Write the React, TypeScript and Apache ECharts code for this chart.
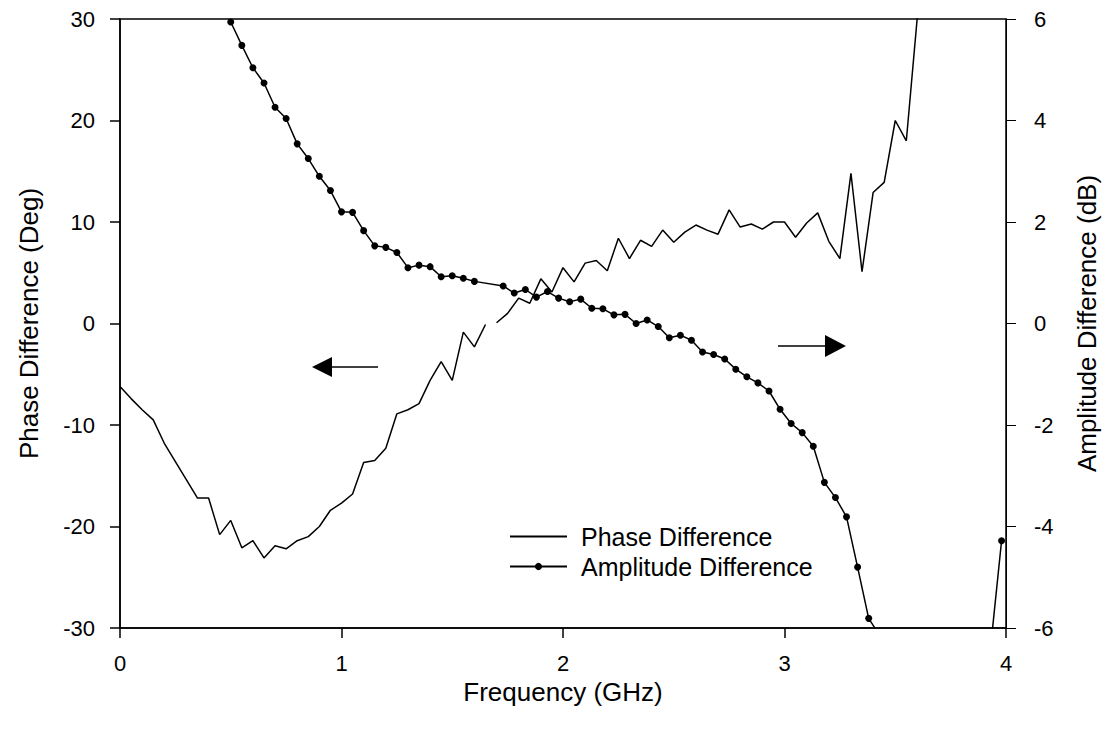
import React, { useEffect, useRef } from "react";
import * as echarts from "echarts";

// Phase difference (deg), left axis
const phaseFreq = [
  0.0, 0.05, 0.1, 0.15, 0.2, 0.25, 0.3, 0.35, 0.4, 0.45, 0.5, 0.55, 0.6, 0.65, 0.7, 0.75, 0.8, 0.85, 0.9, 0.95,
  1.0, 1.05, 1.1, 1.15, 1.2, 1.25, 1.3, 1.35, 1.4, 1.45, 1.5, 1.55, 1.6, 1.65, 1.675, 1.7, 1.75, 1.8, 1.85, 1.9, 1.95,
  2.0, 2.05, 2.1, 2.15, 2.2, 2.25, 2.3, 2.35, 2.4, 2.45, 2.5, 2.55, 2.6, 2.65, 2.7, 2.75, 2.8, 2.85, 2.9, 2.95,
  3.0, 3.05, 3.1, 3.15, 3.2, 3.25, 3.3, 3.35, 3.4, 3.45, 3.5, 3.55, 3.6,
];
const phaseDeg: (number | null)[] = [
  -6.2, -7.4, -8.5, -9.5, -11.8, -13.6, -15.4, -17.2, -17.2, -20.8, -19.4, -22.1, -21.4, -23.1, -21.9, -22.2, -21.4, -21.0, -20.0, -18.4,
  -17.7, -16.8, -13.7, -13.5, -12.3, -8.9, -8.5, -7.9, -5.6, -3.75, -5.6, -0.85, -2.3, -0.1, null, 0.07, 1.0, 2.5, 2.0, 4.4, 3.1,
  5.5, 4.1, 5.95, 6.2, 5.2, 8.4, 6.4, 8.2, 7.6, 9.2, 8.0, 9.0, 9.7, 9.2, 8.8, 11.2, 9.5, 9.8, 9.3, 10.0,
  10.0, 8.5, 9.9, 10.9, 8.1, 6.4, 14.8, 5.1, 12.9, 13.9, 20.0, 18.0, 30.3,
];

// Amplitude difference (dB), right axis
const ampFreq = [
  0.5, 0.55, 0.6, 0.65, 0.7, 0.75, 0.8, 0.85, 0.9, 0.95, 1.0, 1.05, 1.1, 1.15, 1.2, 1.25, 1.3, 1.35, 1.4, 1.45, 1.5, 1.55, 1.6,
  1.73, 1.78, 1.83, 1.88, 1.93, 1.98, 2.03, 2.08, 2.13, 2.18, 2.23, 2.28, 2.33, 2.38, 2.43, 2.48, 2.53, 2.58, 2.63, 2.68, 2.73,
  2.78, 2.83, 2.88, 2.93, 2.98, 3.03, 3.08, 3.13, 3.18, 3.23, 3.28, 3.33, 3.38, 3.43, 3.93, 3.98,
];
const ampDb = [
  5.94, 5.48, 5.04, 4.74, 4.26, 4.04, 3.54, 3.25, 2.9, 2.62, 2.2, 2.19, 1.83, 1.53, 1.5, 1.4, 1.1, 1.15, 1.12, 0.92, 0.94, 0.89, 0.83,
  0.74, 0.6, 0.67, 0.52, 0.63, 0.5, 0.43, 0.48, 0.3, 0.29, 0.17, 0.18, 0.0, 0.07, -0.06, -0.28, -0.23, -0.33, -0.56, -0.61, -0.7,
  -0.9, -1.05, -1.17, -1.33, -1.69, -1.97, -2.15, -2.42, -3.13, -3.43, -3.81, -4.8, -5.81, -6.15, -6.4, -4.28,
];

const xTicks = [0, 1, 2, 3, 4];
const leftTicks = [-30, -20, -10, 0, 10, 20, 30];
const rightTicks = [-6, -4, -2, 0, 2, 4, 6];

const FONT = "'Liberation Sans', Arial, sans-serif";

export default function App() {
  const ref = useRef<HTMLDivElement>(null);
  useEffect(() => {
    if (!ref.current) return;
    const chart = echarts.init(ref.current, undefined, { renderer: "svg" });
    const axisText = { color: "#000", fontSize: 22, fontFamily: FONT };
    const nameText = { color: "#000", fontSize: 26, fontFamily: FONT };
    chart.setOption({
      animation: false,
      backgroundColor: "#fff",
      grid: {
        left: 120,
        top: 19,
        width: 886,
        height: 609,
        show: true,
        borderColor: "#000",
        borderWidth: 1.5,
        backgroundColor: "transparent",
      },
      legend: {
        orient: "vertical",
        left: 509,
        top: 524,
        padding: 0,
        itemWidth: 57,
        itemHeight: 9,
        itemGap: 5,
        data: [
          { name: "Phase Difference", itemStyle: { color: "transparent", borderWidth: 0 } },
          { name: "Amplitude Difference" },
        ],
        textStyle: { color: "#000", fontSize: 25, fontFamily: FONT, padding: [0, 0, 0, 9] },
      },
      xAxis: {
        type: "value",
        min: xTicks[0],
        max: xTicks[xTicks.length - 1],
        interval: 1,
        name: "Frequency (GHz)",
        nameLocation: "middle",
        nameGap: 50,
        nameTextStyle: nameText,
        axisLine: { show: true, onZero: false, lineStyle: { color: "#000", width: 1.5 } },
        axisTick: { show: true, inside: false, length: 10, lineStyle: { color: "#000", width: 1.5 } },
        axisLabel: { ...axisText, margin: 24 },
        splitLine: { show: false },
      },
      yAxis: [
        {
          type: "value",
          position: "left",
          min: leftTicks[0],
          max: leftTicks[leftTicks.length - 1],
          interval: 10,
          name: "Phase Difference (Deg)",
          nameLocation: "middle",
          nameGap: 78,
          nameTextStyle: nameText,
          axisLine: { show: true, onZero: false, lineStyle: { color: "#000", width: 1.5 } },
          axisTick: { show: true, inside: false, length: 10, lineStyle: { color: "#000", width: 1.5 } },
          axisLabel: { ...axisText, margin: 25 },
          splitLine: { show: false },
        },
        {
          type: "value",
          position: "right",
          min: rightTicks[0],
          max: rightTicks[rightTicks.length - 1],
          interval: 2,
          name: "Amplitude Difference (dB)",
          nameLocation: "middle",
          nameGap: 68,
          nameTextStyle: nameText,
          axisLine: { show: true, onZero: false, lineStyle: { color: "#000", width: 1 } },
          axisTick: { show: true, inside: false, length: 10, lineStyle: { color: "#000", width: 1 } },
          axisLabel: { ...axisText, margin: 28 },
          splitLine: { show: false },
        },
      ],
      series: [
        {
          name: "Phase Difference",
          type: "line",
          yAxisIndex: 0,
          symbol: "none",
          clip: true,
          connectNulls: false,
          lineStyle: { color: "#000", width: 1.5 },
          itemStyle: { color: "#000" },
          data: phaseFreq.map((f, i) => [f, phaseDeg[i] === null ? "-" : phaseDeg[i]]),
        },
        {
          name: "Amplitude Difference",
          type: "line",
          yAxisIndex: 1,
          symbol: "circle",
          symbolSize: 7,
          showAllSymbol: true,
          clip: true,
          lineStyle: { color: "#000", width: 1.5 },
          itemStyle: { color: "#000" },
          data: ampFreq.map((f, i) => [f, ampDb[i]]),
        },
      ],
      graphic: [
        { type: "line", shape: { x1: 330, y1: 367, x2: 378, y2: 367 }, style: { stroke: "#000", lineWidth: 1.5 } },
        { type: "polygon", shape: { points: [[312, 367], [332, 357], [332, 377]] }, style: { fill: "#000" } },
        { type: "line", shape: { x1: 778, y1: 346, x2: 827, y2: 346 }, style: { stroke: "#000", lineWidth: 1.5 } },
        { type: "polygon", shape: { points: [[846, 346], [825, 335], [825, 357]] }, style: { fill: "#000" } },
      ],
    });
    return () => chart.dispose();
  }, []);
  return (
    <div
      ref={ref}
      style={{ position: "fixed", left: 0, top: 0, width: 1114, height: 734, background: "#fff" }}
    />
  );
}
